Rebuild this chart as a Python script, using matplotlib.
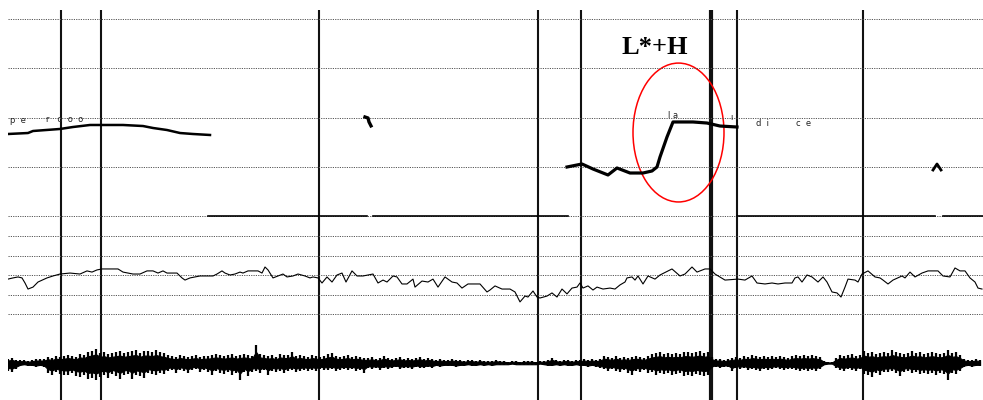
import numpy as np
import matplotlib
matplotlib.use("Agg")
import matplotlib.pyplot as plt
from matplotlib.patches import Ellipse

T_END = 3.9

# segment boundaries (s)
boundaries = [0.212, 0.372, 1.244, 2.120, 2.292, 2.812, 2.916, 3.420]
boundary_lw = [1.5, 1.5, 1.5, 1.5, 1.5, 3.0, 1.5, 1.5]

# F0 track (Hz)
pitch_ticks = [100, 200, 300, 400, 500]
f0_a_t = [0.000, 0.080, 0.100, 0.208, 0.260, 0.328, 0.368, 0.460, 0.540,
          0.580, 0.636, 0.688, 0.740, 0.808]
f0_a_hz = [266.5, 268.5, 272.6, 276.7, 280.7, 284.8, 284.8, 284.8, 282.7,
           278.7, 274.6, 268.5, 266.5, 264.5]
f0_b_t = [1.428, 1.440, 1.444, 1.452]
f0_b_hz = [301, 299, 291, 283]
f0_c_t = [2.236, 2.296, 2.340, 2.400, 2.436, 2.488, 2.540, 2.576, 2.596,
          2.608, 2.636, 2.660, 2.740, 2.796, 2.848, 2.916]
f0_c_hz = [199.5, 205.6, 195.4, 183.3, 197.5, 187.3, 187.3, 191.4, 199.5,
           219.8, 260.4, 290.9, 290.9, 288.8, 282.7, 280.7]
f0_d_t = [3.700, 3.716, 3.732]
f0_d_hz = [193.4, 205.6, 193.4]
unvoiced = [(0.80, 1.436), (1.46, 2.24), (2.916, 3.708), (3.74, 3.9)]

# syllable labels on the pitch tier
syl_text = ["p  e", "r   o  o  o", "l a", "\u0131", "d  i", "c  e"]
syl_t = [0.008, 0.150, 2.640, 2.888, 2.990, 3.150]
syl_hz = [293, 295, 305, 300, 287, 287]

# intensity (dB)
int_ticks = [40, 50, 60, 70, 80]
int_t = [0.000, 0.020, 0.040, 0.056, 0.068, 0.080, 0.100, 0.120, 0.156, 0.180,
         0.208, 0.248, 0.288, 0.316, 0.336, 0.356, 0.376, 0.440, 0.460, 0.500,
         0.528, 0.556, 0.580, 0.600, 0.620, 0.636, 0.676, 0.696, 0.708, 0.728,
         0.768, 0.820, 0.836, 0.856, 0.868, 0.888, 0.908, 0.928, 0.940, 0.960,
         0.976, 1.000, 1.016, 1.028, 1.040, 1.060, 1.080, 1.100, 1.116, 1.140,
         1.160, 1.188, 1.208, 1.220, 1.240, 1.256, 1.276, 1.296, 1.316, 1.336,
         1.352, 1.376, 1.396, 1.420, 1.460, 1.480, 1.500, 1.516, 1.540, 1.556,
         1.576, 1.596, 1.620, 1.628, 1.656, 1.680, 1.700, 1.720, 1.748, 1.776,
         1.796, 1.816, 1.840, 1.888, 1.916, 1.928, 1.948, 1.976, 2.008, 2.028,
         2.048, 2.068, 2.080, 2.100, 2.116, 2.128, 2.156, 2.176, 2.196, 2.216,
         2.236, 2.256, 2.276, 2.288, 2.300, 2.320, 2.340, 2.356, 2.380, 2.408,
         2.428, 2.448, 2.468, 2.476, 2.496, 2.508, 2.520, 2.540, 2.560, 2.588,
         2.608, 2.656, 2.688, 2.708, 2.736, 2.756, 2.788, 2.808, 2.828, 2.868,
         2.920, 2.948, 2.976, 2.996, 3.028, 3.056, 3.080, 3.108, 3.136, 3.148,
         3.160, 3.176, 3.196, 3.216, 3.240, 3.260, 3.276, 3.296, 3.316, 3.332,
         3.348, 3.360, 3.388, 3.400, 3.416, 3.440, 3.468, 3.488, 3.500, 3.520,
         3.540, 3.576, 3.588, 3.608, 3.628, 3.656, 3.680, 3.720, 3.740, 3.768,
         3.788, 3.808, 3.828, 3.848, 3.868, 3.880, 3.896]
int_db = [57.9, 58.5, 59.0, 58.5, 55.9, 52.8, 53.8, 56.4, 58.5, 59.5,
          60.5, 61.0, 60.5, 62.1, 61.5, 62.6, 63.1, 63.1, 61.5, 60.5,
          60.5, 62.1, 62.1, 61.0, 62.1, 61.0, 61.0, 58.5, 57.4, 58.5,
          59.5, 59.5, 60.5, 62.1, 61.0, 60.0, 60.5, 61.5, 61.0, 62.1,
          62.1, 62.1, 61.0, 64.1, 62.6, 58.5, 59.5, 60.5, 59.0, 59.5,
          60.5, 59.5, 58.5, 59.0, 58.5, 55.9, 59.0, 56.4, 60.0, 61.0,
          56.4, 62.1, 59.5, 59.5, 60.5, 55.9, 57.4, 56.4, 59.5, 59.0,
          55.4, 55.4, 57.9, 53.8, 56.9, 56.4, 57.9, 53.8, 59.0, 56.4,
          55.9, 53.3, 55.4, 55.4, 51.3, 52.3, 54.4, 52.8, 52.8, 51.3,
          46.2, 49.2, 48.7, 51.8, 48.7, 48.2, 49.2, 50.8, 48.7, 52.8,
          50.3, 53.3, 53.8, 55.9, 53.3, 54.4, 52.3, 53.8, 52.8, 53.3,
          52.8, 54.9, 56.4, 58.5, 59.0, 57.4, 59.5, 55.4, 59.5, 57.9,
          60.0, 63.1, 59.5, 60.5, 64.1, 61.5, 63.1, 63.1, 60.5, 57.4,
          57.9, 57.4, 59.5, 55.9, 55.4, 55.9, 55.4, 55.9, 55.9, 58.5,
          59.0, 56.4, 60.0, 59.0, 56.4, 59.0, 56.4, 51.3, 50.8, 48.7,
          53.8, 57.9, 57.4, 56.4, 60.5, 62.1, 59.0, 58.5, 57.4, 55.4,
          57.4, 59.5, 58.5, 61.5, 59.0, 61.0, 62.1, 62.1, 59.5, 59.0,
          63.6, 62.1, 62.1, 58.5, 56.4, 53.3, 52.8]

# waveform envelope (arbitrary units), one value every 16 ms
wave_top = [4, 5, 3, 3, 3, 2, 3, 4, 4, 4,
            6, 5, 7, 6, 7, 8, 7, 6, 9, 8,
            11, 12, 14, 10, 11, 9, 10, 11, 12, 10,
            11, 12, 13, 10, 12, 12, 11, 13, 11, 10,
            8, 7, 6, 8, 7, 6, 7, 8, 6, 7,
            7, 8, 9, 8, 7, 8, 9, 7, 8, 9,
            8, 7, 18, 9, 8, 7, 8, 6, 9, 8,
            8, 11, 7, 8, 7, 6, 8, 7, 6, 7,
            9, 10, 7, 6, 7, 8, 6, 7, 6, 5,
            5, 6, 4, 5, 7, 5, 4, 5, 6, 4,
            5, 4, 5, 6, 4, 5, 4, 3, 4, 3,
            3, 4, 3, 3, 2, 3, 3, 2, 3, 2,
            2, 2, 3, 2, 2, 1, 2, 2, 1, 2,
            2, 2, 1, 2, 2, 3, 5, 3, 2, 3,
            3, 2, 3, 3, 4, 3, 4, 3, 4, 7,
            6, 5, 7, 5, 6, 5, 6, 7, 6, 5,
            7, 9, 10, 11, 9, 10, 9, 10, 9, 11,
            11, 10, 11, 12, 10, 11, 6, 4, 4, 3,
            4, 5, 6, 5, 7, 6, 8, 7, 6, 7,
            6, 7, 6, 7, 6, 5, 7, 8, 7, 8,
            7, 8, 7, 6, 2, 1, 1, 5, 8, 7,
            8, 9, 7, 8, 12, 10, 11, 9, 10, 11,
            10, 13, 11, 10, 9, 10, 12, 10, 11, 9,
            10, 11, 10, 9, 10, 13, 10, 11, 8, 4,
            3, 3, 4, 3]
wave_bot = [8, 9, 6, 3, 2, 3, 3, 4, 3, 4,
            10, 12, 9, 11, 12, 12, 10, 13, 14, 12,
            16, 15, 17, 14, 12, 15, 11, 13, 16, 12,
            11, 16, 12, 13, 15, 10, 11, 12, 10, 11,
            8, 7, 10, 7, 8, 10, 7, 6, 9, 7,
            9, 12, 8, 10, 11, 9, 12, 10, 17, 9,
            13, 9, 8, 10, 7, 12, 8, 9, 8, 10,
            8, 7, 9, 8, 7, 8, 7, 8, 6, 7,
            7, 6, 8, 7, 6, 7, 6, 8, 7, 10,
            5, 6, 5, 7, 5, 6, 5, 4, 6, 5,
            5, 6, 4, 5, 5, 4, 5, 3, 4, 3,
            3, 3, 4, 3, 3, 2, 3, 3, 2, 3,
            2, 3, 2, 2, 2, 2, 1, 2, 2, 2,
            2, 2, 2, 1, 2, 3, 3, 2, 3, 2,
            3, 3, 2, 3, 3, 4, 3, 4, 5, 6,
            8, 6, 8, 9, 7, 10, 12, 8, 9, 7,
            10, 9, 12, 10, 11, 10, 12, 11, 10, 13,
            12, 13, 11, 12, 13, 12, 5, 4, 5, 4,
            4, 8, 5, 6, 5, 7, 6, 7, 8, 6,
            7, 6, 5, 6, 7, 6, 6, 7, 8, 7,
            8, 7, 8, 6, 2, 1, 1, 5, 7, 8,
            6, 7, 8, 6, 11, 12, 14, 10, 12, 9,
            9, 8, 10, 13, 9, 8, 10, 9, 11, 10,
            11, 10, 12, 10, 11, 17, 10, 11, 8, 4,
            3, 4, 3, 3]

GRID = dict(color="#555555", lw=0.7, ls=(0, (1.2, 1.2)), clip_on=False)

fig = plt.figure(figsize=(9.83, 4.0), dpi=100)
x0, w = 8 / 983, 975 / 983

ax_b = fig.add_axes([x0, 0.0, w, 0.975])
ax_p = fig.add_axes([x0, 0.46, w, 0.4925])
ax_i = fig.add_axes([x0, 0.215, w, 0.195])
ax_w = fig.add_axes([x0, 0.0125, w, 0.16])

for ax in (ax_b, ax_p, ax_i, ax_w):
    ax.set_xlim(0, T_END)
    ax.axis("off")
    ax.patch.set_alpha(0)

# pitch panel
ax_p.set_ylim(100, 500)
for v in pitch_ticks:
    ax_p.axhline(v, **GRID)
for a, b in unvoiced:
    ax_p.plot([a, b], [100, 100], color="black", lw=1.2, clip_on=False)
ax_p.plot(f0_a_t, f0_a_hz, color="black", lw=1.8, solid_joinstyle="round")
ax_p.plot(f0_b_t, f0_b_hz, color="black", lw=2.4)
ax_p.plot(f0_c_t, f0_c_hz, color="black", lw=2.3, solid_joinstyle="round")
ax_p.plot(f0_d_t, f0_d_hz, color="black", lw=2.0)
for s, t, hz in zip(syl_text, syl_t, syl_hz):
    ax_p.text(t, hz, s, fontsize=6, color="#222222", va="center", ha="left")

ell = Ellipse((2.682, 269.5), 0.364, 282, fill=False, ec="red", lw=1.1)
ax_p.add_patch(ell)
ax_p.text(2.588, 443, "L*+H", fontsize=19, fontweight="bold",
          family="Liberation Serif", ha="center", va="center")

# intensity panel
ax_i.set_ylim(40, 80)
for v in int_ticks:
    ax_i.axhline(v, **GRID)
ax_i.plot(int_t, int_db, color="black", lw=0.8)

# waveform panel: dense core plus thin spikes
wave_t = np.linspace(0, 0.016 * (len(wave_top) - 1), len(wave_top))
top = np.array(wave_top, dtype=float)
bot = np.array(wave_bot, dtype=float)
ax_w.set_ylim(-32, 32)
ax_w.fill_between(wave_t, -0.62 * bot, 0.62 * top, color="black", lw=0.8)
ax_w.vlines(wave_t, -bot, top, color="black", lw=1.6)

# segment boundaries
ax_b.set_ylim(0, 1)
for bt, lw in zip(boundaries, boundary_lw):
    ax_b.axvline(bt, color="#111111", lw=lw)

fig.savefig("out.png", dpi=100)
